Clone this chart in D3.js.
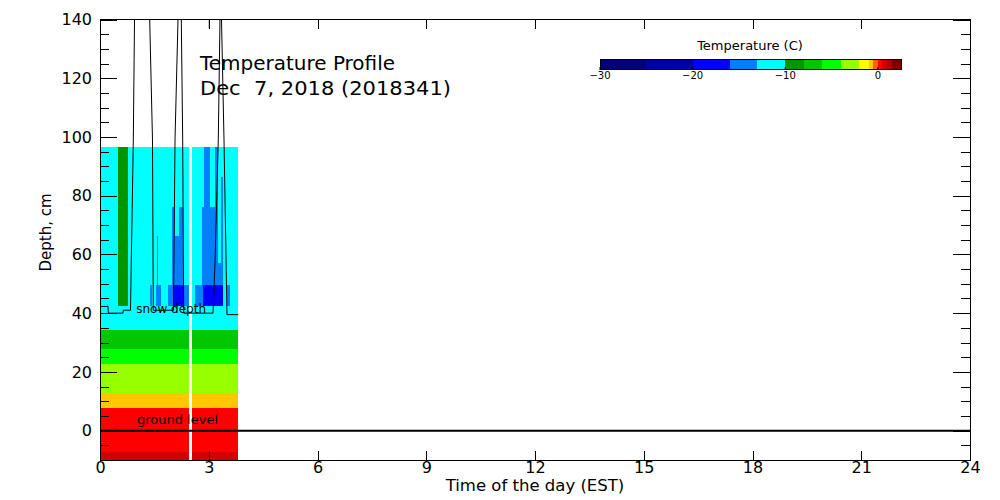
<!DOCTYPE html>
<html>
<head>
<meta charset="utf-8">
<script src="https://d3js.org/d3.v7.min.js"></script>
<style>
  body { margin: 0; background: #fff; }
  svg { display: block; font-family: "DejaVu Sans", sans-serif; }
  text { white-space: pre; }
</style>
</head>
<body>
<div class="g-chart-container"></div>
<script>
// time edges of the data columns (hours EST)
var colTimes = [0, 0.50, 0.77, 1.38, 1.43, 1.54, 1.56, 1.61, 1.67, 1.88, 1.98, 2.02, 2.07, 2.19, 2.28, 2.30,
  2.46, 2.53, 2.62, 2.82, 2.85, 2.88, 3.03, 3.17, 3.26, 3.34, 3.40, 3.51, 3.59, 3.82];
var gapTimes = [2.46, 2.53];

// snow layers, depth edges (cm) and temperatures per column (C)
var snowEdges = [96.5, 86.2, 76.3, 66.4, 57.2, 49.7, 42.5];
var snowRow1 = [-11.5,-9,-11.5,-11.5,-11.5,-11.5,-11.5,-11.5,-11.5,-11.5,-11.5,-11.5,-11.5,-11.5,-11.5,-11.5,null,-11.5,-11.5,-11.5,-11.5,-14.5,-11.5,-14.5,-11.5,-11.5,-11.5,-11.5,-11.5];
var snowRow2 = [-11.5,-9,-11.5,-11.5,-11.5,-11.5,-11.5,-11.5,-11.5,-11.5,-11.5,-11.5,-11.5,-11.5,-11.5,-11.5,null,-11.5,-11.5,-11.5,-11.5,-14.5,-11.5,-14.5,-11.5,-14.5,-11.5,-11.5,-11.5];
var snowRow3 = [-11.5,-9,-11.5,-11.5,-11.5,-11.5,-11.5,-11.5,-11.5,-11.5,-14.5,-14.5,-11.5,-14.5,-11.5,-11.5,null,-11.5,-11.5,-14.5,-14.5,-14.5,-14.5,-14.5,-11.5,-14.5,-11.5,-11.5,-11.5];
var snowRow4 = [-11.5,-9,-11.5,-11.5,-11.5,-11.5,-14.5,-11.5,-11.5,-11.5,-14.5,-14.5,-14.5,-14.5,-11.5,-11.5,null,-11.5,-11.5,-14.5,-14.5,-14.5,-14.5,-14.5,-11.5,-14.5,-11.5,-11.5,-11.5];
var snowRow5 = [-11.5,-9,-11.5,-11.5,-11.5,-11.5,-14.5,-11.5,-11.5,-11.5,-14.5,-14.5,-14.5,-14.5,-14.5,-11.5,null,-11.5,-11.5,-14.5,-14.5,-14.5,-14.5,-14.5,-14.5,-14.5,-11.5,-11.5,-11.5];
var snowRow6 = [-11.5,-9,-11.5,-14.5,-11.5,-14.5,-14.5,-14.5,-11.5,-14.5,-14.5,-18,-18,-18,-18,-14.5,null,-11.5,-14.5,-14.5,-18,-18,-18,-18,-18,-18,-11.5,-14.5,-11.5];

// lower layers (snow base + soil), constant over the period
var soilEdges = [42.5, 34.3, 27.8, 22.7, 12.8, 7.7, -7.3, -10];
var soilTemps = [-11.5, -7, -5, -3, -0.7, 0.2, 0.7];

// snow depth sensor trace
var snowTimes = [0, 0.221, 0.229, 0.634, 0.643, 0.841, 0.919, 0.952, 0.993, 1.324, 1.371, 1.448, 1.470, 2.028, 2.069,
  2.152, 2.193, 2.221, 2.243, 2.281, 2.309, 3.117, 3.172, 3.263, 3.310, 3.332, 3.352, 3.421, 3.503, 3.815];
var snowDepths = [42.3, 42.3, 40, 40, 41, 41, 99, 140, 170, 170, 140, 99, 41, 41, 99,
  140, 160, 160, 140, 99, 40, 40, 57, 99, 140, 150, 140, 99, 39.5, 39.5];
var spikeTimes = [3.015, 3.015];
var spikeDepths = [170, 137];

// colour table
var tempBreaks = [-25, -20, -16, -13, -10, -8, -6, -4, -2, -1, -0.5, 0, 0.5, 1, 1.5];
var tempColors = ["#000078", "#0000a8", "#0000ff", "#0080ff", "#00ffff", "#009600", "#00c800", "#00ff00",
  "#96ff00", "#ffff00", "#ffc800", "#ff6400", "#ff0000", "#d00000", "#b40000", "#780000"];
var tempRange = [-30, 2.5];
var legendTicks = [-30, -20, -10, 0];

var hourTicks = [0, 3, 6, 9, 12, 15, 18, 21, 24];
var depthTicks = [0, 20, 40, 60, 80, 100, 120, 140];
var depthMinor = d3.range(-10, 141, 5);

var x = d3.scaleLinear().domain([0, 24]).range([100, 970]);
var y = d3.scaleLinear().domain([-10, 140]).range([460, 19.5]);
var color = d3.scaleThreshold().domain(tempBreaks).range(tempColors);

var svg = d3.select(".g-chart-container")
  .append("svg")
  .attr("width", 1000)
  .attr("height", 500);

svg.append("clipPath").attr("id", "plot-clip")
  .append("rect")
  .attr("x", x(0)).attr("y", y(140))
  .attr("width", x(24) - x(0)).attr("height", y(-10) - y(140));

var plot = svg.append("g");

// cells
var cells = [];
[snowRow1, snowRow2, snowRow3, snowRow4, snowRow5, snowRow6].forEach(function(row, r){
  row.forEach(function(t, c){
    if (t === null) return;
    cells.push({t0: colTimes[c], t1: colTimes[c + 1], d0: snowEdges[r], d1: snowEdges[r + 1], temp: t});
  });
});
soilTemps.forEach(function(t, r){
  cells.push({t0: colTimes[0], t1: colTimes[colTimes.length - 1], d0: soilEdges[r], d1: soilEdges[r + 1], temp: t});
});

plot.selectAll(".cell")
  .data(cells)
  .enter()
  .append("rect")
  .attr("class", "cell")
  .attr("x", function(d){ return x(d.t0); })
  .attr("width", function(d){ return x(d.t1) - x(d.t0); })
  .attr("y", function(d){ return y(d.d0); })
  .attr("height", function(d){ return y(d.d1) - y(d.d0); })
  .attr("fill", function(d){ return color(d.temp); })
  .attr("shape-rendering", "crispEdges");

// missing data column
plot.append("rect")
  .attr("x", x(gapTimes[0]))
  .attr("width", x(gapTimes[1]) - x(gapTimes[0]))
  .attr("y", y(snowEdges[0]))
  .attr("height", y(-10) - y(snowEdges[0]))
  .attr("fill", "#fff")
  .attr("shape-rendering", "crispEdges");

// axes
function styleAxis(g){
  g.select(".domain").remove();
  g.attr("color", "#000");
  g.selectAll("line").attr("stroke-width", 1).attr("shape-rendering", "crispEdges");
  g.selectAll("text").attr("font-family", "DejaVu Sans, sans-serif").attr("font-size", 16).attr("fill", "#000");
}

svg.append("g").attr("transform", "translate(" + x(0) + ",0)")
  .call(d3.axisLeft(y).tickValues(depthMinor).tickSizeInner(-9).tickSizeOuter(0).tickFormat(""))
  .call(styleAxis);
svg.append("g").attr("transform", "translate(" + x(0) + ",0)")
  .call(d3.axisLeft(y).tickValues(depthTicks).tickSizeInner(-17).tickSizeOuter(0).tickPadding(8).tickFormat(d3.format("d")))
  .call(styleAxis);
svg.append("g").attr("transform", "translate(" + x(24) + ",0)")
  .call(d3.axisRight(y).tickValues(depthMinor).tickSizeInner(-9).tickSizeOuter(0).tickFormat(""))
  .call(styleAxis);
svg.append("g").attr("transform", "translate(" + x(24) + ",0)")
  .call(d3.axisRight(y).tickValues(depthTicks).tickSizeInner(-17).tickSizeOuter(0).tickFormat(""))
  .call(styleAxis);
svg.append("g").attr("transform", "translate(0," + y(-10) + ")")
  .call(d3.axisBottom(x).tickValues(hourTicks).tickSizeInner(-9).tickSizeOuter(0).tickPadding(2).tickFormat(d3.format("d")))
  .call(styleAxis);
svg.append("g").attr("transform", "translate(0," + y(140) + ")")
  .call(d3.axisTop(x).tickValues(hourTicks).tickSizeInner(-9).tickSizeOuter(0).tickFormat(""))
  .call(styleAxis);

// frame
svg.append("rect")
  .attr("x", x(0)).attr("y", y(140))
  .attr("width", x(24) - x(0)).attr("height", y(-10) - y(140))
  .attr("fill", "none").attr("stroke", "#000").attr("shape-rendering", "crispEdges");

// ground level
svg.append("line")
  .attr("x1", x(0)).attr("x2", x(24))
  .attr("y1", y(0)).attr("y2", y(0))
  .attr("stroke", "#000").attr("stroke-width", 2);

// snow depth traces
var line = d3.line()
  .x(function(d){ return x(d[0]); })
  .y(function(d){ return y(d[1]); });

var lines = svg.append("g").attr("clip-path", "url(#plot-clip)");
lines.append("path")
  .attr("d", line(d3.zip(snowTimes, snowDepths)))
  .attr("fill", "none").attr("stroke", "#000").attr("stroke-width", 1);
lines.append("path")
  .attr("d", line(d3.zip(spikeTimes, spikeDepths)))
  .attr("fill", "none").attr("stroke", "#000").attr("stroke-width", 1);

svg.append("text")
  .attr("x", x(1.0)).attr("y", y(40))
  .attr("font-size", 12)
  .text("snow depth");
svg.append("text")
  .attr("x", x(1.02)).attr("y", y(0) - 7)
  .attr("font-size", 13)
  .text("ground level");

// titles
svg.append("text")
  .attr("x", 200).attr("y", 70)
  .attr("font-size", 19)
  .attr("textLength", 195).attr("lengthAdjust", "spacingAndGlyphs")
  .text("Temperature Profile");
svg.append("text")
  .attr("x", 200).attr("y", 95)
  .attr("font-size", 19)
  .attr("textLength", 251).attr("lengthAdjust", "spacingAndGlyphs")
  .text("Dec  7, 2018 (2018341)");

svg.append("text")
  .attr("x", (x(0) + x(24)) / 2).attr("y", 491)
  .attr("text-anchor", "middle")
  .attr("font-size", 16.5)
  .text("Time of the day (EST)");

svg.append("text")
  .attr("transform", "translate(51," + y(67.5) + ") rotate(-90)")
  .attr("text-anchor", "middle")
  .attr("font-size", 15)
  .text("Depth, cm");

// colour bar
var lx = d3.scaleLinear().domain(tempRange).range([600, 901]);
var binEdges = [tempRange[0]].concat(tempBreaks, [tempRange[1]]);
var legend = svg.append("g");

legend.selectAll(".bin")
  .data(tempColors)
  .enter()
  .append("rect")
  .attr("class", "bin")
  .attr("x", function(d, i){ return lx(binEdges[i]); })
  .attr("width", function(d, i){ return lx(binEdges[i + 1]) - lx(binEdges[i]); })
  .attr("y", 59.5).attr("height", 10)
  .attr("fill", function(d){ return d; })
  .attr("shape-rendering", "crispEdges");

legend.append("rect")
  .attr("x", lx(tempRange[0])).attr("y", 59.5)
  .attr("width", lx(tempRange[1]) - lx(tempRange[0])).attr("height", 10)
  .attr("fill", "none").attr("stroke", "#000").attr("shape-rendering", "crispEdges");

legend.selectAll(".ltick")
  .data(legendTicks)
  .enter()
  .append("line")
  .attr("x1", function(d){ return lx(d); }).attr("x2", function(d){ return lx(d); })
  .attr("y1", 67).attr("y2", 70)
  .attr("stroke", "#000");

legend.selectAll(".llabel")
  .data(legendTicks)
  .enter()
  .append("text")
  .attr("x", function(d){ return lx(d); })
  .attr("y", 79)
  .attr("text-anchor", "middle")
  .attr("font-size", 10)
  .text(d3.format("d"));

legend.append("text")
  .attr("x", 750).attr("y", 50)
  .attr("text-anchor", "middle")
  .attr("font-size", 13)
  .text("Temperature (C)");
</script>
</body>
</html>
